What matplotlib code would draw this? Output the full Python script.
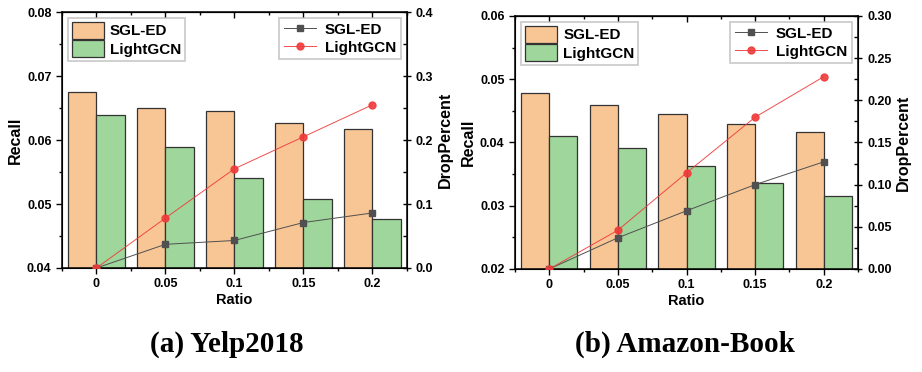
import numpy as np
import matplotlib
matplotlib.use("Agg")
import matplotlib.pyplot as plt
from matplotlib.ticker import MultipleLocator

plt.rcParams['font.family'] = ['Liberation Sans', 'DejaVu Sans']
plt.rcParams['font.weight'] = 'bold'

ratios = ['0', '0.05', '0.1', '0.15', '0.2']

# Yelp2018
yelp_recall_sgl = [0.0675, 0.0650, 0.0646, 0.0627, 0.0617]
yelp_recall_lgcn = [0.0639, 0.0589, 0.0540, 0.0508, 0.0476]
yelp_drop_sgl = [0.0, 0.037, 0.043, 0.071, 0.086]
yelp_drop_lgcn = [0.0, 0.078, 0.155, 0.205, 0.255]

# Amazon-Book
amzn_recall_sgl = [0.0478, 0.0460, 0.0445, 0.0430, 0.0417]
amzn_recall_lgcn = [0.0410, 0.0391, 0.0363, 0.0336, 0.0315]
amzn_drop_sgl = [0.0, 0.037, 0.069, 0.100, 0.127]
amzn_drop_lgcn = [0.0, 0.046, 0.114, 0.180, 0.228]

ORANGE = '#F8C594'
GREEN = '#9ED69B'
GRAY = '#505050'
RED = '#F03A3A'


def draw_panel(ax, recall_sgl, recall_lgcn, drop_sgl, drop_lgcn,
               ylim, ymaj, y2lim, y2maj, y2fmt, caption, cap_x):
    x = np.arange(len(ratios))
    w = 0.41
    ax.bar(x - w / 2, recall_sgl, w, color=ORANGE, edgecolor='#333333',
           linewidth=0.9, label='SGL-ED', zorder=2)
    ax.bar(x + w / 2, recall_lgcn, w, color=GREEN, edgecolor='#333333',
           linewidth=0.9, label='LightGCN', zorder=2)
    ax.set_xlim(-0.5, 4.5)
    ax.set_ylim(*ylim)
    ax.set_xticks(x)
    ax.set_xticklabels(ratios)
    ax.xaxis.set_minor_locator(MultipleLocator(0.5))
    ax.yaxis.set_major_locator(MultipleLocator(ymaj))
    ax.yaxis.set_minor_locator(MultipleLocator(ymaj / 2))
    ax.yaxis.set_major_formatter(plt.FormatStrFormatter('%.2f'))
    ax.set_xlabel('Ratio', fontsize=10.5, fontweight='bold', labelpad=2)
    ax.set_ylabel('Recall', fontsize=11.5, fontweight='bold', labelpad=3)
    ax.tick_params(axis='both', which='major', labelsize=9, length=4,
                   width=1, direction='out')
    ax.tick_params(axis='both', which='minor', length=2.5, width=1,
                   direction='out')
    # mirrored ticks on top, pointing inward
    sec = ax.secondary_xaxis('top')
    sec.set_xticks(x)
    sec.xaxis.set_minor_locator(MultipleLocator(0.5))
    sec.tick_params(which='major', direction='in', length=4, width=1,
                    labeltop=False)
    sec.tick_params(which='minor', direction='in', length=2.5, width=1)
    for sp in ax.spines.values():
        sp.set_linewidth(1.1)
    leg = ax.legend(loc='upper left', fontsize=11, frameon=True,
                    fancybox=False, edgecolor='#BBBBBB', borderpad=0.25,
                    handlelength=2.1, handleheight=1.3, handletextpad=0.4,
                    labelspacing=0.1, borderaxespad=0.4)
    leg.get_frame().set_linewidth(1.2)

    ax2 = ax.twinx()
    ax2.plot(x, drop_sgl, color=GRAY, marker='s', markersize=5,
             linewidth=0.7, label='SGL-ED', zorder=3)
    ax2.plot(x, drop_lgcn, color=RED, marker='o', markersize=5,
             linewidth=0.7, label='LightGCN', zorder=3, alpha=0.9)
    ax2.set_ylim(*y2lim)
    ax2.yaxis.set_major_locator(MultipleLocator(y2maj))
    ax2.yaxis.set_minor_locator(MultipleLocator(y2maj / 2))
    ax2.yaxis.set_major_formatter(plt.FormatStrFormatter(y2fmt))
    ax2.set_ylabel('DropPercent', fontsize=11.5, fontweight='bold',
                   labelpad=3)
    ax2.tick_params(axis='y', which='major', labelsize=9, length=6, width=1,
                    direction='inout')
    ax2.tick_params(axis='y', which='minor', length=3, width=1,
                    direction='in')
    leg2 = ax2.legend(loc='upper right', fontsize=11, frameon=True,
                      fancybox=False, edgecolor='#BBBBBB', borderpad=0.3,
                      handlelength=2.1, handletextpad=0.6,
                      labelspacing=0.25, borderaxespad=0.4)
    leg2.get_frame().set_linewidth(1.2)
    for t in ax.get_xticklabels() + ax.get_yticklabels() + ax2.get_yticklabels():
        t.set_fontweight('bold')

    fig.text(cap_x, 0.075, caption, ha='center', va='center', fontsize=21,
             fontweight='bold', family='Liberation Serif')


fig = plt.figure(figsize=(9.22, 3.72), dpi=100)
ax_a = fig.add_axes([0.0672, 0.2796, 0.374, 0.688])
ax_b = fig.add_axes([0.5586, 0.277, 0.372, 0.680])

draw_panel(ax_a, yelp_recall_sgl, yelp_recall_lgcn, yelp_drop_sgl,
           yelp_drop_lgcn, (0.04, 0.08), 0.01, (0.0, 0.4), 0.1, '%.1f',
           '(a) Yelp2018', 0.246)
draw_panel(ax_b, amzn_recall_sgl, amzn_recall_lgcn, amzn_drop_sgl,
           amzn_drop_lgcn, (0.02, 0.06), 0.01, (0.0, 0.30), 0.05, '%.2f',
           '(b) Amazon-Book', 0.743)

fig.savefig('out.png', dpi=100)
